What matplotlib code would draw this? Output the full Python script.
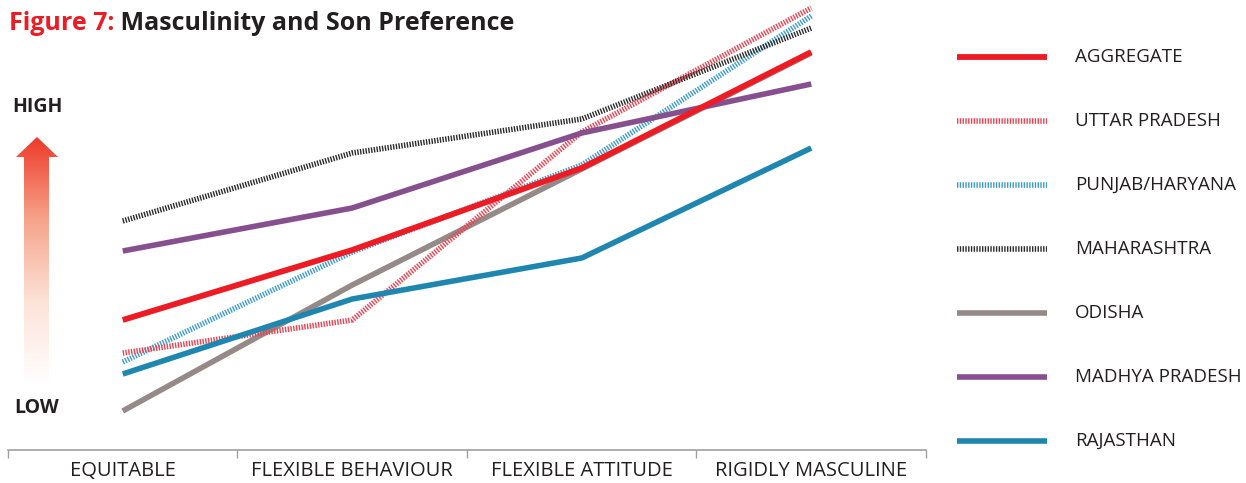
import numpy as np
import matplotlib
matplotlib.use("Agg")
import matplotlib.pyplot as plt
from matplotlib.patches import Polygon
from matplotlib.colors import LinearSegmentedColormap

plt.rcParams['font.family'] = ['Open Sans', 'DejaVu Sans']

# categories on the x axis
categories = ["EQUITABLE", "FLEXIBLE BEHAVIOUR", "FLEXIBLE ATTITUDE", "RIGIDLY MASCULINE"]

# son preference score (relative, low -> high)
aggregate = [130, 200, 282, 398]
uttar_pradesh = [97, 130, 318, 442]
punjab_haryana = [88, 198, 285, 434]
maharashtra = [229, 297, 331, 422]
odisha = [39, 165, 281, 397]
madhya_pradesh = [199, 242, 317, 366]
rajasthan = [76, 151, 192, 302]

names = ["AGGREGATE", "UTTAR PRADESH", "PUNJAB/HARYANA", "MAHARASHTRA",
         "ODISHA", "MADHYA PRADESH", "RAJASTHAN"]
series = [aggregate, uttar_pradesh, punjab_haryana, maharashtra,
          odisha, madhya_pradesh, rajasthan]
colors = ["#ed1c24", "#f0414f", "#3b9bd0", "#2b2b2b", "#958a87", "#86508f", "#1f87af"]
dotted = (0, (0.25, 0.25))
styles = ["-", dotted, dotted, dotted, "-", "-", "-"]
widths = [4.2, 4.0, 4.0, 4.0, 4.0, 4.0, 4.0]
zorders = [10, 6, 5, 7, 4, 8, 9]

W, H = 1246, 483
fig = plt.figure(figsize=(W / 100, H / 100), dpi=100)

# overlay in pixel coords for title, arrow and legend
ov = fig.add_axes([0, 0, 1, 1])
ov.set_xlim(0, W)
ov.set_ylim(H, 0)
ov.axis("off")

ax = fig.add_axes([8 / W, (H - 450) / H, 918 / W, 450 / H])
ax.patch.set_alpha(0)
x = np.arange(len(categories))
for vals, c, ls, lw, z in zip(series, colors, styles, widths, zorders):
    ax.plot(x, vals, color=c, linestyle=ls, lw=lw, zorder=z,
            solid_capstyle="butt", dash_capstyle="butt")
ax.set_xlim(-0.5, 3.5)
ax.set_ylim(0, 450)
for s in ["top", "right", "left"]:
    ax.spines[s].set_visible(False)
ax.spines["bottom"].set_color("#a0a0a0")
ax.spines["bottom"].set_linewidth(1.2)
ax.set_yticks([])
ax.set_xticks(np.arange(-0.5, 4, 1))
ax.set_xticklabels([])
ax.tick_params(axis="x", length=6, width=1, color="#a0a0a0")
ax.set_xticks(x, minor=True)
ax.set_xticklabels(categories, minor=True, fontsize=14.5, color="#231f20")
ax.tick_params(axis="x", which="minor", length=0, pad=8)

# title
t1 = ov.text(9, 23, "Figure 7:", color="#ed1c24", fontsize=18,
             fontweight="bold", va="center", ha="left")
ov.annotate(" Masculinity and Son Preference", xy=(1, 0.5), xycoords=t1,
            va="center", ha="left", fontsize=18, fontweight="bold", color="#231f20")

# HIGH / LOW arrow
ov.text(37, 107, "HIGH", fontsize=14, fontweight="bold", ha="center", va="center", color="#231f20")
ov.text(37, 408, "LOW", fontsize=14, fontweight="bold", ha="center", va="center", color="#231f20")
arrow = Polygon([(24, 385), (24, 157), (16, 157), (37, 137), (58, 157), (49, 157), (49, 385)],
                closed=True, facecolor="none", edgecolor="none")
ov.add_patch(arrow)
cmap = LinearSegmentedColormap.from_list("fade", ["#ffffff", "#fde3d8", "#f6a48b", "#ee3a2a"])
grad = np.linspace(0, 1, 256).reshape(-1, 1)
im = ov.imshow(grad, cmap=cmap, extent=[16, 58, 385, 137], origin="lower", aspect="auto")
im.set_clip_path(arrow)
ov.set_xlim(0, W)
ov.set_ylim(H, 0)

# legend
for i, (n, c, ls, lw) in enumerate(zip(names, colors, styles, widths)):
    yy = 57 + 64 * i
    ov.plot([957, 1047], [yy, yy], color=c, linestyle=ls, lw=lw,
            solid_capstyle="butt", dash_capstyle="butt")
    ov.text(1075, yy, n, fontsize=13.5, va="center", ha="left", color="#231f20")

fig.savefig("out.png", dpi=100)
